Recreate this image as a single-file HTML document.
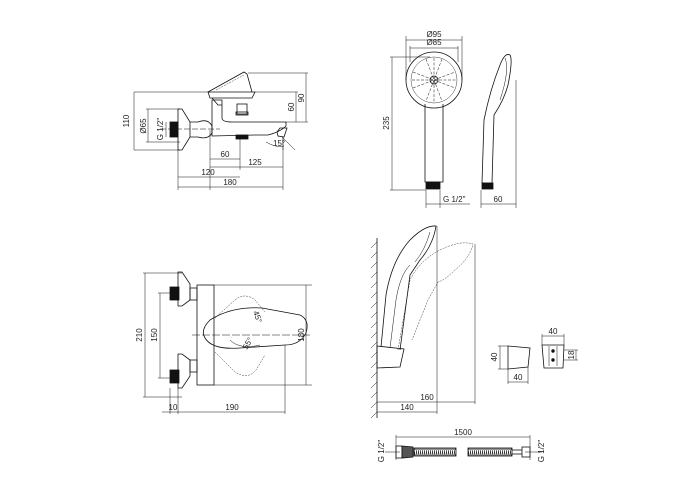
<!DOCTYPE html>
<html><head><style>html,body{margin:0;padding:0;background:#fff}svg{display:block}text{font-family:"Liberation Sans",sans-serif;font-size:8px;fill:#222}</style></head>
<body>
<svg width="700" height="500" viewBox="0 0 700 500" xmlns="http://www.w3.org/2000/svg">
<defs>
<pattern id="coil" width="2" height="6" patternUnits="userSpaceOnUse"><rect width="2" height="6" fill="#fff"/><line x1="0" y1="0" x2="1.2" y2="6" stroke="#111" stroke-width="0.9"/></pattern>
</defs>
<g fill="none" stroke="#111" stroke-width="0.8">
<!-- TOP LEFT MIXER -->
<path d="M178 109 L182 109 L190 122 L190 137 L182 150 L178 150 Z"/>
<rect x="170" y="122" width="8" height="15" fill="#111"/>
<path d="M190 122 L198 122 Q208 118 212 126 L212 133 Q208 140 198 137 L190 137"/>
<path d="M212 120 L212 136 L255 135 L268 135 Q280 132 286 126 L286 122 L232 122 Q222 122 222 118 L222 100 L212 100 Z"/>
<path d="M208 92 L255 92 L252 98 L210 98 Z"/>
<path d="M212 98 L218 105 L222 105"/>
<path d="M208 92 L244 72 L247 74 L252 92"/>
<path d="M216 90 L244 75" stroke-width="0.4" stroke-dasharray="2 1"/>
<rect x="237" y="104" width="10" height="10"/>
<rect x="236" y="112" width="12" height="3"/>
<rect x="236" y="135" width="12" height="4" fill="#111"/>
<path d="M277 132 L280 128 L287 128 L284 137 L278 136 Z"/>
<g stroke-width="0.5">
<line x1="134" y1="92" x2="210" y2="92"/><line x1="134" y1="150" x2="180" y2="150"/>
<line x1="134" y1="92" x2="134" y2="150"/>
<line x1="146" y1="109" x2="180" y2="109"/><line x1="146" y1="142" x2="180" y2="142"/>
<line x1="148" y1="109" x2="148" y2="142"/>
<line x1="166" y1="122" x2="166" y2="137"/><line x1="160" y1="129" x2="220" y2="129" stroke-dasharray="6 2"/>
<line x1="248" y1="73" x2="308" y2="73"/><line x1="306" y1="73" x2="306" y2="122"/>
<line x1="255" y1="92" x2="298" y2="92"/><line x1="296" y1="92" x2="296" y2="122"/>
<line x1="286" y1="122" x2="308" y2="122"/>
<line x1="210" y1="130" x2="210" y2="190"/><line x1="240" y1="138" x2="240" y2="170"/>
<line x1="178" y1="150" x2="178" y2="190"/><line x1="283" y1="138" x2="283" y2="190"/>
<line x1="210" y1="159" x2="240" y2="159"/><line x1="210" y1="167" x2="283" y2="167"/>
<line x1="178" y1="177" x2="240" y2="177"/><line x1="178" y1="187" x2="283" y2="187"/>
<line x1="282" y1="137" x2="295" y2="150"/><line x1="283" y1="137" x2="283" y2="150"/>
<path d="M266 142 Q276 148 284 146"/>
</g>
<!-- SHOWER FRONT -->
<circle cx="434" cy="80" r="28"/>
<circle cx="434" cy="80" r="23" stroke-width="0.4"/>
<g stroke-width="0.5" stroke-dasharray="3 1.5">
<line x1="413" y1="72" x2="455" y2="88"/><line x1="413" y1="88" x2="455" y2="72"/><line x1="426" y1="59" x2="442" y2="101"/><line x1="442" y1="59" x2="426" y2="101"/>
<line x1="412" y1="80" x2="456" y2="80"/><line x1="434" y1="58" x2="434" y2="102"/>
</g>
<circle cx="434" cy="80" r="4"/>
<path d="M425 104 L425 182 L443 182 L443 104"/>
<rect x="426" y="182" width="14" height="7" fill="#111"/>
<g stroke-width="0.5">
<line x1="406" y1="36" x2="406" y2="80"/><line x1="462" y1="36" x2="462" y2="80"/><line x1="406" y1="40" x2="462" y2="40"/>
<line x1="410" y1="46" x2="410" y2="62"/><line x1="458" y1="46" x2="458" y2="62"/><line x1="410" y1="48" x2="458" y2="48"/>
<line x1="390" y1="57" x2="430" y2="57"/><line x1="390" y1="190" x2="426" y2="190"/><line x1="392" y1="57" x2="392" y2="190"/>
<line x1="426" y1="190" x2="426" y2="208"/><line x1="440" y1="190" x2="440" y2="208"/><line x1="426" y1="204" x2="470" y2="204"/>
<line x1="481" y1="190" x2="481" y2="208"/><line x1="516" y1="80" x2="516" y2="208"/><line x1="481" y1="204" x2="516" y2="204"/>
</g>
<!-- SHOWER SIDE -->
<path d="M482 183 L484 120 Q490 90 500 65 Q505 52 510 55 Q513 60 508 85 Q504 100 494 115 L492 183 Z"/>
<path d="M505 58 Q510 70 500 100" stroke-width="0.5"/>
<rect x="482" y="183" width="11" height="6" fill="#111"/>
<!-- BOTTOM LEFT -->
<path d="M178 272 L182 272 L190 284 L190 300 L182 306 L178 306 Z"/>
<path d="M178 354 L182 354 L190 360 L190 376 L182 388 L178 388 Z"/>
<rect x="170" y="287" width="9" height="13" fill="#111"/>
<rect x="170" y="370" width="9" height="13" fill="#111"/>
<rect x="190" y="288" width="7" height="12"/><rect x="190" y="360" width="7" height="12"/>
<rect x="197" y="285" width="17" height="100"/>
<path d="M210 320 Q232 306 262 308 L300 315 Q310 320 306 333 Q300 345 285 345 L240 348 Q212 350 205 338 Q200 330 210 320 Z"/>
<path d="M230 340 Q240 350 260 345" stroke-width="0.5"/>
<path d="M215 318 L235 300 Q245 292 255 300 L265 312 M215 352 L235 372 Q248 380 256 370 L265 355" stroke-width="0.4" stroke-dasharray="2 1"/>
<g stroke-width="0.5">
<line x1="143" y1="273" x2="182" y2="273"/><line x1="143" y1="397" x2="182" y2="397"/><line x1="145" y1="273" x2="145" y2="397"/>
<line x1="158" y1="293" x2="172" y2="293"/><line x1="158" y1="378" x2="172" y2="378"/><line x1="160" y1="293" x2="160" y2="378"/>
<line x1="214" y1="285" x2="312" y2="285"/><line x1="214" y1="385" x2="312" y2="385"/><line x1="306" y1="285" x2="306" y2="385"/>
<line x1="170" y1="388" x2="170" y2="414"/><line x1="178" y1="388" x2="178" y2="414"/><line x1="285" y1="345" x2="285" y2="414"/>
<line x1="162" y1="412" x2="285" y2="412"/>
<line x1="192" y1="335" x2="310" y2="335" stroke-dasharray="8 2"/>
</g>
<!-- BOTTOM RIGHT SHOWER ON WALL -->
<line x1="377" y1="238" x2="377" y2="418"/>
<g stroke-width="0.5">
<path d="M377 242 l-6 6 M377 252 l-6 6 M377 262 l-6 6 M377 272 l-6 6 M377 282 l-6 6 M377 292 l-6 6 M377 302 l-6 6 M377 312 l-6 6 M377 322 l-6 6 M377 332 l-6 6 M377 342 l-6 6 M377 352 l-6 6 M377 362 l-6 6 M377 372 l-6 6 M377 382 l-6 6 M377 392 l-6 6 M377 402 l-6 6 M377 412 l-6 6"/>
</g>
<path d="M381 347 L386 295 Q392 260 410 240 Q425 225 436 226 Q433 245 420 260 L410 275 L400 350"/>
<path d="M390 348 L396 300 Q400 275 410 265" stroke-width="0.5"/>
<path d="M430 232 Q425 250 415 262" stroke-width="0.5"/>
<path d="M377 346 L404 349 L400 367 L377 368 Z"/>
<path d="M398 350 L410 280 Q420 260 440 250 Q460 240 473 244 Q470 258 455 270 Q445 280 438 282 L428 300 L412 340" stroke-width="0.4" stroke-dasharray="2 1"/>
<g stroke-width="0.5">
<line x1="437" y1="226" x2="437" y2="414"/><line x1="475" y1="244" x2="475" y2="404"/>
<line x1="377" y1="402" x2="475" y2="402"/><line x1="377" y1="412" x2="437" y2="412"/>
</g>
<!-- holder -->
<path d="M508 346 L530 348 L528 367 L508 369 Z"/>
<g stroke-width="0.5"><line x1="498" y1="346" x2="508" y2="346"/><line x1="498" y1="369" x2="508" y2="369"/><line x1="500" y1="346" x2="500" y2="369"/>
<line x1="508" y1="369" x2="508" y2="384"/><line x1="528" y1="367" x2="528" y2="384"/><line x1="508" y1="382" x2="528" y2="382"/>
<line x1="542" y1="334" x2="542" y2="345"/><line x1="564" y1="334" x2="564" y2="345"/><line x1="542" y1="336" x2="564" y2="336"/>
<line x1="564" y1="350" x2="578" y2="350"/><line x1="564" y1="360" x2="578" y2="360"/><line x1="576" y1="350" x2="576" y2="360"/></g>
<path d="M542 345 L564 345 L563 368 L544 368 Z"/>
<path d="M549 346 L549 366 M557 346 L557 366" stroke-width="0.5"/>
<circle cx="553" cy="351" r="1.3" fill="#111"/><circle cx="553" cy="360" r="1.3" fill="#111"/>
<!-- hose -->
<g stroke-width="0.5"><line x1="396" y1="437" x2="530" y2="437"/><line x1="396" y1="435" x2="396" y2="460"/><line x1="530" y1="435" x2="530" y2="460"/>
<line x1="385" y1="452" x2="400" y2="452"/><line x1="525" y1="452" x2="542" y2="452"/></g>
<rect x="396" y="446" width="6" height="12"/>
<path d="M402 446 L413 447 L413 457 L402 458 Z" fill="#555"/>
<rect x="414" y="448" width="42" height="8" fill="url(#coil)"/>
<rect x="468" y="448" width="44" height="8" fill="url(#coil)"/>
<line x1="512" y1="450" x2="522" y2="450"/><line x1="512" y1="454" x2="522" y2="454"/>
<rect x="522" y="447" width="8" height="10"/>
</g>
<g>
<text x="129" y="121" transform="rotate(-90 129 121)" text-anchor="middle">110</text>
<text x="146" y="126" transform="rotate(-90 146 126)" text-anchor="middle">Ø65</text>
<text x="163" y="129" transform="rotate(-90 163 129)" text-anchor="middle">G 1/2"</text>
<text x="304" y="98" transform="rotate(-90 304 98)" text-anchor="middle">90</text>
<text x="294" y="107" transform="rotate(-90 294 107)" text-anchor="middle">60</text>
<text x="273" y="146">15°</text>
<text x="225" y="157" text-anchor="middle">60</text>
<text x="255" y="165" text-anchor="middle">125</text>
<text x="208" y="175" text-anchor="middle">120</text>
<text x="230" y="185" text-anchor="middle">180</text>
<text x="434" y="37" text-anchor="middle">Ø95</text>
<text x="434" y="45" text-anchor="middle">Ø85</text>
<text x="389" y="123" transform="rotate(-90 389 123)" text-anchor="middle">235</text>
<text x="443" y="202">G 1/2"</text>
<text x="498" y="202" text-anchor="middle">60</text>
<text x="142" y="335" transform="rotate(-90 142 335)" text-anchor="middle">210</text>
<text x="157" y="335" transform="rotate(-90 157 335)" text-anchor="middle">150</text>
<text x="304" y="335" transform="rotate(-90 304 335)" text-anchor="middle">180</text>
<text x="173" y="410" text-anchor="middle">10</text>
<text x="232" y="410" text-anchor="middle">190</text>
<text x="253" y="312" transform="rotate(70 253 312)" font-size="7">45°</text>
<text x="247" y="350" transform="rotate(-60 247 350)" font-size="7">55°</text>
<text x="427" y="400" text-anchor="middle">160</text>
<text x="407" y="410" text-anchor="middle">140</text>
<text x="497" y="357" transform="rotate(-90 497 357)" text-anchor="middle">40</text>
<text x="518" y="380" text-anchor="middle">40</text>
<text x="553" y="334" text-anchor="middle">40</text>
<text x="574" y="355" transform="rotate(-90 574 355)" text-anchor="middle">18</text>
<text x="463" y="435" text-anchor="middle">1500</text>
<text x="384" y="451" transform="rotate(-90 384 451)" text-anchor="middle">G 1/2"</text>
<text x="544" y="451" transform="rotate(-90 544 451)" text-anchor="middle">G 1/2"</text>
</g>
</svg>
</body></html>
